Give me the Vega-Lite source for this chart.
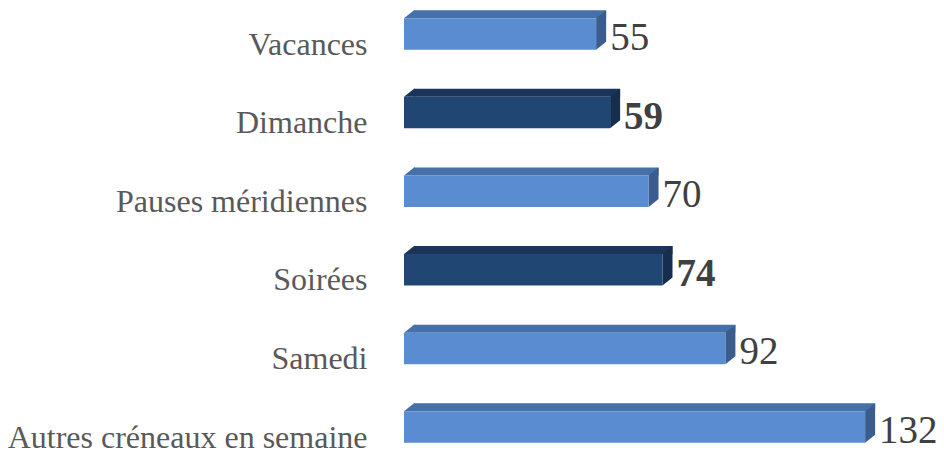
{
  "$schema": "https://vega.github.io/schema/vega-lite/v6.json",
  "autosize": {"type": "none"},
  "width": 524,
  "height": 393,
  "padding": {"left": 404, "top": 44, "right": 16, "bottom": 14},
  "background": "white",
  "view": {"stroke": null},
  "config": {"font": "Liberation Serif"},
  "data": {
    "values": [
      {"creneau": "Vacances", "valeur": 55, "groupe": "autre"},
      {"creneau": "Dimanche", "valeur": 59, "groupe": "fort"},
      {"creneau": "Pauses méridiennes", "valeur": 70, "groupe": "autre"},
      {"creneau": "Soirées", "valeur": 74, "groupe": "fort"},
      {"creneau": "Samedi", "valeur": 92, "groupe": "autre"},
      {"creneau": "Autres créneaux en semaine", "valeur": 132, "groupe": "autre"}
    ]
  },
  "encoding": {
    "y": {
      "field": "creneau",
      "type": "nominal",
      "sort": null,
      "scale": {"type": "point", "padding": 0},
      "axis": {
        "title": null,
        "domain": false,
        "ticks": false,
        "grid": false,
        "labelFont": "Liberation Serif",
        "labelFontSize": 32,
        "labelColor": "#595959",
        "labelPadding": 37,
        "labelLimit": 0
      }
    }
  },
  "layer": [
    {
      "mark": {"type": "bar", "height": 8, "yOffset": -29.75, "xOffset": 10, "x2Offset": 10},
      "encoding": {
        "x": {"field": "valeur", "type": "quantitative", "scale": {"domain": [0, 150], "nice": false, "zero": true}, "axis": null},
        "x2": {"datum": 0},
        "fill": {"condition": {"test": "datum.groupe === 'fort'", "value": "#1B355A"}, "value": "#4670A8"}
      }
    },
    {
      "mark": {"type": "point", "filled": true, "size": 4, "strokeWidth": 0, "opacity": 1,
               "shape": "M0,-25.75 L10,-33.75 L11,-33.75 L11,-25.75 Z"},
      "encoding": {
        "x": {"datum": 0, "type": "quantitative"},
        "fill": {"condition": {"test": "datum.groupe === 'fort'", "value": "#1B355A"}, "value": "#4670A8"}
      }
    },
    {
      "mark": {"type": "point", "filled": true, "size": 4, "strokeWidth": 0, "opacity": 1,
               "shape": "M0,-25.75 L10,-33.75 L10,-2.25 L0,5.75 Z"},
      "encoding": {
        "x": {"field": "valeur", "type": "quantitative"},
        "fill": {"condition": {"test": "datum.groupe === 'fort'", "value": "#172D4D"}, "value": "#3B5C8E"}
      }
    },
    {
      "mark": {"type": "bar", "height": 31.5, "yOffset": -10},
      "encoding": {
        "x": {"field": "valeur", "type": "quantitative"},
        "fill": {"condition": {"test": "datum.groupe === 'fort'", "value": "#204673"}, "value": "#598CD1"}
      }
    },
    {
      "transform": [{"filter": "datum.groupe !== 'fort'"}],
      "mark": {"type": "text", "align": "left", "baseline": "alphabetic", "dx": 14, "yOffset": 6,
               "font": "Liberation Serif", "fontSize": 39, "fontWeight": "normal", "color": "#404040"},
      "encoding": {
        "x": {"field": "valeur", "type": "quantitative"},
        "text": {"field": "valeur", "type": "quantitative"}
      }
    },
    {
      "transform": [{"filter": "datum.groupe === 'fort'"}],
      "mark": {"type": "text", "align": "left", "baseline": "alphabetic", "dx": 14, "yOffset": 6,
               "font": "Liberation Serif", "fontSize": 39, "fontWeight": "bold", "color": "#404040"},
      "encoding": {
        "x": {"field": "valeur", "type": "quantitative"},
        "text": {"field": "valeur", "type": "quantitative"}
      }
    }
  ]
}
